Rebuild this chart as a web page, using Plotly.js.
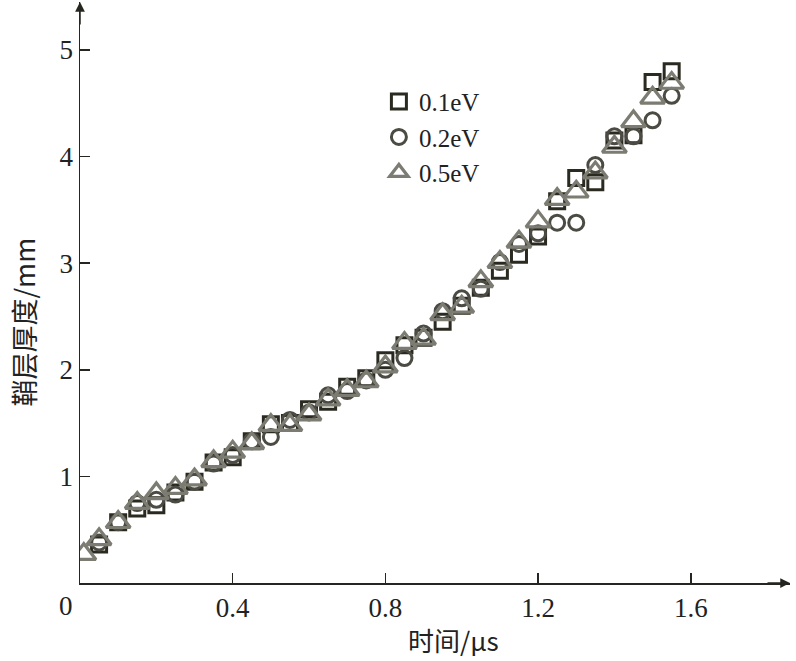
<!DOCTYPE html>
<html>
<head>
<meta charset="utf-8">
<script src="https://cdn.plot.ly/plotly-3.0.1.min.js"></script>
<style>html,body{margin:0;padding:0;background:#fff;}#chart{width:796px;height:661px;}</style>
</head>
<body>
<div id="chart"></div>
<script>
const seriesNames = ['0.1eV', '0.2eV', '0.5eV'];
const time01 = [0.05,0.10,0.15,0.20,0.25,0.30,0.35,0.40,0.45,0.50,0.55,0.60,0.65,0.70,0.75,0.80,0.85,0.90,0.95,1.00,1.05,1.10,1.15,1.20,1.25,1.30,1.35,1.40,1.45,1.50,1.55];
const thick01 = [0.36,0.57,0.70,0.73,0.85,0.95,1.13,1.18,1.33,1.49,1.50,1.63,1.70,1.84,1.92,2.09,2.23,2.30,2.45,2.60,2.77,2.93,3.08,3.25,3.58,3.80,3.76,4.15,4.20,4.70,4.80];
const time02 = [0.05,0.10,0.15,0.20,0.25,0.30,0.35,0.40,0.45,0.50,0.55,0.60,0.65,0.70,0.75,0.80,0.85,0.90,0.95,1.00,1.05,1.10,1.15,1.20,1.25,1.30,1.35,1.40,1.45,1.50,1.55];
const thick02 = [0.38,0.57,0.75,0.78,0.83,0.95,1.12,1.20,1.33,1.37,1.53,1.60,1.76,1.80,1.90,2.00,2.11,2.34,2.55,2.67,2.76,3.01,3.18,3.28,3.38,3.38,3.92,4.19,4.19,4.34,4.57];
const time05 = [0.01,0.05,0.10,0.15,0.20,0.25,0.30,0.35,0.40,0.45,0.50,0.55,0.60,0.65,0.70,0.75,0.80,0.85,0.90,0.95,1.00,1.05,1.10,1.15,1.20,1.25,1.30,1.35,1.40,1.45,1.50,1.55];
const thick05 = [0.27,0.41,0.57,0.75,0.84,0.89,0.97,1.14,1.23,1.31,1.48,1.48,1.58,1.72,1.81,1.89,2.03,2.25,2.29,2.52,2.59,2.83,3.01,3.20,3.39,3.60,3.67,3.85,4.09,4.33,4.55,4.69];
const xTickVals = [0.4, 0.8, 1.2, 1.6];
const xTickText = ['0.4', '0.8', '1.2', '1.6'];
const yTickVals = [1, 2, 3, 4, 5];
const yTickText = ['1', '2', '3', '4', '5'];
const xTitle = '时间/μs';
const yTitle = '鞘层厚度/mm';

const serif = 'Liberation Serif, Times New Roman, serif';
const cjk = '"Noto Sans CJK SC", "Liberation Serif", serif';
const axisColor = '#262620';

const traces = [
  {x: time01, y: thick01, name: seriesNames[0], type: 'scatter', mode: 'markers', legendgroup: 'a',
   marker: {symbol: 'square-open', size: 15, color: '#2b2a20', line: {width: 3, color: '#2b2a20'}}},
  {x: time02, y: thick02, name: seriesNames[1], type: 'scatter', mode: 'markers', legendgroup: 'b',
   marker: {symbol: 'circle-open', size: 15, color: '#4b4b43', line: {width: 3, color: '#4b4b43'}}},
  {x: time05, y: thick05, name: seriesNames[2], type: 'scatter', mode: 'markers', legendgroup: 'c',
   marker: {symbol: 'triangle-up-open', size: 21, color: '#7c7c73', line: {width: 3.2, color: '#7c7c73'}}}
];

const layout = {
  width: 796, height: 661,
  margin: {l: 80, r: 6, t: 2, b: 78},
  paper_bgcolor: '#fff', plot_bgcolor: '#fff',
  showlegend: true,
  legend: {x: 0.421, y: 0.868, xanchor: 'left', yanchor: 'top', bgcolor: 'rgba(0,0,0,0)',
           font: {family: serif, size: 25, color: '#222'}, tracegroupgap: 0, traceorder: 'grouped'},
  xaxis: {range: [0, 1.86], showgrid: false, zeroline: false, showline: true, linecolor: axisColor, linewidth: 1.5,
          ticks: 'inside', ticklen: 10, tickwidth: 1.5, tickcolor: axisColor,
          tickvals: xTickVals, ticktext: xTickText, tickfont: {family: serif, size: 27, color: '#222'}},
  yaxis: {range: [0, 5.45], showgrid: false, zeroline: false, showline: true, linecolor: axisColor, linewidth: 1.5,
          ticks: 'inside', ticklen: 10, tickwidth: 1.5, tickcolor: axisColor,
          tickvals: yTickVals, ticktext: yTickText, tickfont: {family: serif, size: 27, color: '#222'}},
  annotations: [
    {x: 1.86, y: 0, xref: 'x', yref: 'y', ax: -24, ay: 0, text: '', showarrow: true, arrowhead: 2, arrowsize: 1.3, arrowwidth: 1.5, arrowcolor: axisColor},
    {x: 0, y: 5.45, xref: 'x', yref: 'y', ax: 0, ay: 24, text: '', showarrow: true, arrowhead: 2, arrowsize: 1.3, arrowwidth: 1.5, arrowcolor: axisColor},
    {x: -0.0197, y: -0.04, xref: 'paper', yref: 'paper', text: '0', showarrow: false, xanchor: 'center', yanchor: 'middle',
     font: {family: serif, size: 27, color: '#222'}},
    {x: 0.526, y: -0.098, xref: 'paper', yref: 'paper', text: xTitle, showarrow: false, xanchor: 'center', yanchor: 'middle',
     font: {family: cjk, size: 26, color: '#222'}},
    {x: -0.079, y: 0.45, xref: 'paper', yref: 'paper', text: yTitle, showarrow: false, textangle: -90, xanchor: 'center', yanchor: 'middle',
     font: {family: cjk, size: 27, color: '#222'}}
  ]
};

Plotly.newPlot('chart', traces, layout, {displayModeBar: false, staticPlot: true});
</script>
</body>
</html>
